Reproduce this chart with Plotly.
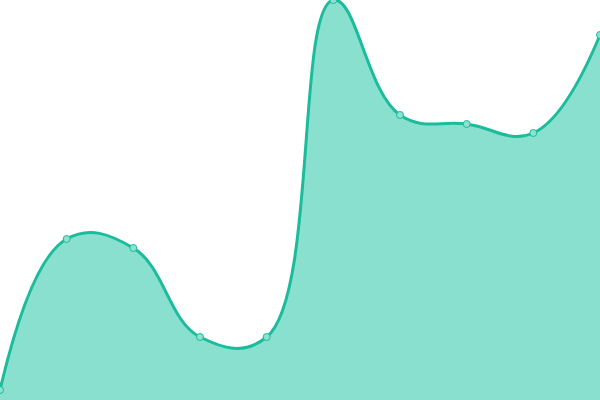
import plotly.graph_objects as go

# data points (index along x)
idx = [0, 1, 2, 3, 4, 5, 6, 7, 8, 9]
values = [10, 161, 152, 63, 63, 400, 285, 276, 267, 365]

line_col = "#1abc9c"
fill_col = "rgb(137,224,207)"

fig = go.Figure()
fig.add_trace(go.Scatter(
    x=idx, y=values,
    mode="lines+markers",
    line=dict(color=line_col, width=3, shape="spline", smoothing=1.2),
    fill="tozeroy",
    fillcolor=fill_col,
    marker=dict(size=7, color="#8ee0cf", line=dict(color=line_col, width=1)),
    cliponaxis=False,
    hoverinfo="skip",
))

fig.update_layout(
    width=600, height=400,
    margin=dict(l=0, r=0, t=0, b=0),
    paper_bgcolor="white", plot_bgcolor="white",
    showlegend=False,
    xaxis=dict(range=[0, 9], visible=False),
    yaxis=dict(range=[0, 400], visible=False),
)

# page body has an 8px default margin, drop it so the chart sits at 0,0
fig.write_html("out.html", config={"displayModeBar": False},
               post_script="document.body.style.margin='0px';")
